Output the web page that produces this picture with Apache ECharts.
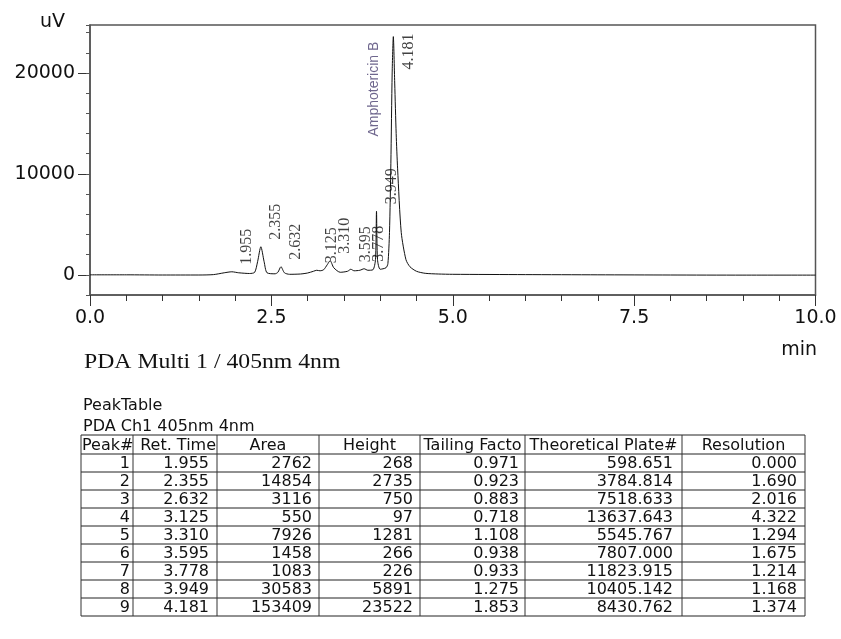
<!DOCTYPE html>
<html>
<head>
<meta charset="utf-8">
<script src="https://cdn.jsdelivr.net/npm/echarts@6/dist/echarts.min.js"></script>
<style>
html,body{margin:0;padding:0;background:#fff;}
#chart{width:841px;height:639px;}
</style>
</head>
<body>
<div id="chart"></div>
<script>
// ---- chromatogram trace ----
const times  = [0, 0.5, 1.0, 1.5, 1.7, 1.85, 1.955, 2.05, 2.2, 2.27, 2.31, 2.355, 2.40, 2.44, 2.55, 2.59, 2.632, 2.68, 2.75, 2.9, 3.0, 3.08, 3.125, 3.17, 3.22, 3.27, 3.31, 3.36, 3.45, 3.55, 3.595, 3.64, 3.72, 3.778, 3.83, 3.90, 3.935, 3.949, 3.963, 4.0, 4.08, 4.106, 4.128, 4.147, 4.165, 4.181, 4.20, 4.22, 4.24, 4.29, 4.355, 4.41, 4.5, 4.62, 4.8, 5.0, 6.0, 7.0, 8.0, 9.0, 10.0];
const signal = [0, 0, -20, -20, 20, 200, 300, 200, 130, 250, 1300, 2780, 1300, 200, 100, 250, 800, 200, 50, 80, 180, 350, 450, 400, 500, 1000, 1400, 700, 250, 350, 550, 400, 450, 600, 450, 500, 1500, 6300, 1500, 550, 700, 1100, 4200, 11000, 20000, 23600, 19000, 14000, 10500, 4200, 1500, 800, 350, 150, 80, 50, 20, 0, -20, -30, -30];

// ---- peak table ----
const peakNums   = [1, 2, 3, 4, 5, 6, 7, 8, 9];
const retTimes   = [1.955, 2.355, 2.632, 3.125, 3.310, 3.595, 3.778, 3.949, 4.181];
const areas      = [2762, 14854, 3116, 550, 7926, 1458, 1083, 30583, 153409];
const heights    = [268, 2735, 750, 97, 1281, 266, 226, 5891, 23522];
const tailing    = [0.971, 0.923, 0.883, 0.718, 1.108, 0.938, 0.933, 1.275, 1.853];
const plates     = [598.651, 3784.814, 7518.633, 13637.643, 5545.767, 7807.000, 11823.915, 10405.142, 8430.762];
const resolution = [0.000, 1.690, 2.016, 4.322, 1.294, 1.675, 1.214, 1.168, 1.374];
const headers    = ['Peak#', 'Ret. Time', 'Area', 'Height', 'Tailing Factor', 'Theoretical Plate#', 'Resolution'];

const compoundName = 'Amphotericin B';
const compoundRT = 4.181;
const yTickLabels = [0, 10000, 20000];
const yUnit = 'uV';
const xUnit = 'min';
const caption = 'PDA Multi 1 / 405nm 4nm';
const tableTitle1 = 'PeakTable';
const tableTitle2 = 'PDA Ch1 405nm 4nm';

// ---------------------------------------------------------------
const trace = times.map((t, i) => [t, signal[i]]);
function apexAt(rt) {
  const i = times.findIndex(t => Math.abs(t - rt) < 1e-9);
  return signal[i];
}
const peakPts = retTimes.map(rt => ({
  value: [rt, apexAt(rt)],
  label: rt === compoundRT ? { position: [15, 33] } : {}
}));

const chart = echarts.init(document.getElementById('chart'), null, { renderer: 'canvas' });

// table geometry
const colX = [81, 133, 217, 319, 420, 525, 682, 805];
const tableTop = 435, headH = 19, rowH = 18;
const tFont = '16px "DejaVu Sans"';
const els = [];
const nRows = peakNums.length;
const tableBottom = tableTop + headH + rowH * nRows;
for (let r = 0; r <= nRows + 1; r++) {
  const y = r === 0 ? tableTop : tableTop + headH + rowH * (r - 1);
  els.push({ type: 'line', shape: { x1: colX[0], y1: y, x2: colX[colX.length - 1], y2: y }, style: { stroke: '#222', lineWidth: 1 } });
}
colX.forEach(x => {
  els.push({ type: 'line', shape: { x1: x, y1: tableTop, x2: x, y2: tableBottom }, style: { stroke: '#333', lineWidth: 1 } });
});
// header
headers.forEach((h, c) => {
  const w = colX[c + 1] - colX[c];
  const hy = tableTop + headH / 2 + 1;
  if (c === 0) {
    els.push({ type: 'text', x: colX[0] + 1, y: hy, z: 2,
      style: { text: h, font: tFont, fill: '#111', align: 'left', verticalAlign: 'middle' } });
  } else if (c === 1) {
    els.push({ type: 'text', x: colX[2] - 1, y: hy, z: 2,
      style: { text: h, font: tFont, fill: '#111', align: 'right', verticalAlign: 'middle' } });
  } else {
    els.push({ type: 'text', x: (colX[c] + colX[c + 1]) / 2, y: hy,
      style: { text: h, font: tFont, fill: '#111', align: 'center', verticalAlign: 'middle', width: w, overflow: 'truncate', ellipsis: '' } });
  }
});
// rows
const cols = [
  peakNums.map(v => String(v)),
  retTimes.map(v => v.toFixed(3)),
  areas.map(v => String(v)),
  heights.map(v => String(v)),
  tailing.map(v => v.toFixed(3)),
  plates.map(v => v.toFixed(3)),
  resolution.map(v => v.toFixed(3))
];
const pads = [3, 8, 7, 7, 6, 9, 8];
for (let r = 0; r < nRows; r++) {
  const yc = tableTop + headH + rowH * r + rowH / 2 + 1;
  cols.forEach((col, c) => {
    els.push({ type: 'text', x: colX[c + 1] - pads[c], y: yc,
      style: { text: col[r], font: tFont, fill: '#111', align: 'right', verticalAlign: 'middle' } });
  });
}
// titles & axis units
els.push({ type: 'text', x: 83, y: 406, style: { text: tableTitle1, font: tFont, fill: '#111', verticalAlign: 'middle' } });
els.push({ type: 'text', x: 83, y: 427, style: { text: tableTitle2, font: tFont, fill: '#111', verticalAlign: 'middle' } });
els.push({ type: 'text', x: 84, y: 362, scaleX: 1.13, style: { text: caption, font: '21px "Liberation Serif"', fill: '#111', verticalAlign: 'middle' } });
els.push({ type: 'text', x: 40, y: 22, style: { text: yUnit, font: '19px "DejaVu Sans"', fill: '#111', verticalAlign: 'middle' } });
els.push({ type: 'text', x: 817, y: 350, style: { text: xUnit, font: '19px "DejaVu Sans"', fill: '#111', align: 'right', verticalAlign: 'middle' } });

const option = {
  animation: false,
  backgroundColor: '#fff',
  grid: { left: 90, top: 25, right: 25.5, bottom: 344, show: true, borderColor: '#555', borderWidth: 1.5, containLabel: false, outerBoundsMode: 'none' },
  xAxis: {
    type: 'value', min: 0, max: 10, interval: 2.5,
    axisLine: { onZero: false, lineStyle: { color: '#555', width: 1.5 } },
    axisTick: { length: 11, lineStyle: { color: '#333' } },
    minorTick: { show: true, splitNumber: 5, length: 6, lineStyle: { color: '#333' } },
    splitLine: { show: false },
    axisLabel: { formatter: v => v.toFixed(1), fontFamily: 'DejaVu Sans', fontSize: 19, color: '#111', margin: 14 }
  },
  yAxis: [{
    type: 'value', min: -2000, max: 24750, interval: 2000,
    axisLine: { show: true, onZero: false, lineStyle: { color: '#555', width: 1.5 } },
    axisTick: { show: true, customValues: yTickLabels, length: 12, lineStyle: { color: '#333' } },
    axisLabel: { customValues: yTickLabels, formatter: v => String(Math.round(v)), fontFamily: 'DejaVu Sans', fontSize: 19, color: '#111', margin: 15 },
    splitLine: { show: false }
  }, {
    type: 'value', min: -2000, max: 24750, interval: 2000, position: 'left',
    axisLine: { show: false },
    axisTick: { show: true, length: 4, lineStyle: { color: '#555' } },
    axisLabel: { show: false },
    splitLine: { show: false }
  }],
  series: [{
    type: 'line', data: trace, showSymbol: false, smooth: 0.25,
    lineStyle: { color: '#111', width: 1 }, z: 3
  }, {
    type: 'scatter', data: peakPts, symbolSize: 0, z: 4,
    label: {
      show: true, rotate: 90, position: [15, -7], align: 'left', verticalAlign: 'middle',
      formatter: p => p.value[0].toFixed(3), fontFamily: 'Liberation Serif', fontSize: 16, color: '#111'
    }
  }, {
    type: 'scatter', data: [[compoundRT, apexAt(compoundRT)]], symbolSize: 0, z: 4,
    label: {
      show: true, rotate: 90, position: [-19, 100], align: 'left', verticalAlign: 'middle',
      formatter: compoundName, fontFamily: 'Liberation Sans', fontSize: 14, color: '#4a4070'
    }
  }],
  graphic: els
};
chart.setOption(option);
</script>
</body>
</html>
